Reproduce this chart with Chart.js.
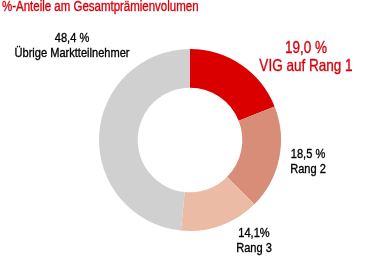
<!DOCTYPE html>
<html>
<head>
<meta charset="utf-8">
<script src="https://cdn.jsdelivr.net/npm/chart.js@4"></script>
<style>
html,body{margin:0;padding:0;background:#fff;}
#wrap{position:relative;width:381px;height:257px;}
</style>
</head>
<body>
<div id="wrap"><canvas id="c" width="381" height="257"></canvas></div>
<script>
const title = "%-Anteile am Gesamtprämienvolumen";
const categories = ["VIG auf Rang 1", "Rang 2", "Rang 3", "Übrige Marktteilnehmer"];
const values = [19.0, 18.5, 14.1, 48.4];
const valueLabels = ["19,0 %", "18,5 %", "14,1%", "48,4 %"];
const colors = ["#DA0000", "#D78D77", "#EBBBA5", "#CFD0CF"];

function pickFont(){
  const c = document.createElement('canvas').getContext('2d');
  c.font = "40px monospace";
  const m = c.measureText("Marktteilnehmer").width;
  c.font = "40px 'Liberation Sans Narrow', monospace";
  const n = c.measureText("Marktteilnehmer").width;
  return Math.abs(m - n) > 1 ? {family:"'Liberation Sans Narrow'", sx:1} : {family:"'Liberation Sans'", sx:0.82};
}
const F = pickFont();

function txt(ctx, s, x, y, size, color, align){
  ctx.save();
  ctx.font = size + "px " + F.family;
  ctx.fillStyle = color;
  ctx.strokeStyle = color;
  ctx.lineWidth = 0.35;
  ctx.textBaseline = "alphabetic";
  ctx.textAlign = align || "center";
  ctx.translate(x, y);
  ctx.scale(F.sx, 1);
  ctx.fillText(s, 0, 0);
  ctx.strokeText(s, 0, 0);
  ctx.restore();
}

const labelPlugin = {
  id: 'labels',
  afterDraw(chart){
    const ctx = chart.ctx;
    txt(ctx, title, 2, 11, 14, "#D9000D", "left");
    // label anchors (center x, first baseline y, size, color, line gap)
    const anchors = [
      [306, 53, 16.5, "#D9000D", 17.5],
      [308, 158, 13.5, "#000000", 14.5],
      [254, 237, 13.5, "#000000", 15],
      [72, 42, 13.5, "#000000", 15]
    ];
    anchors.forEach((a, i) => {
      txt(ctx, valueLabels[i], a[0], a[1], a[2], a[3]);
      txt(ctx, categories[i], a[0], a[1] + a[4], a[2], a[3]);
    });
  }
};

new Chart(document.getElementById('c'), {
  type: 'doughnut',
  data: {
    labels: categories,
    datasets: [{
      data: values,
      backgroundColor: colors,
      borderWidth: 0,
      hoverOffset: 0
    }]
  },
  options: {
    responsive: false,
    animation: false,
    cutout: '57.5%',
    layout: { padding: { top: 49, bottom: 26, left: 99, right: 100 } },
    plugins: { legend: { display: false }, tooltip: { enabled: false }, title: { display: false } }
  },
  plugins: [labelPlugin]
});
</script>
</body>
</html>
